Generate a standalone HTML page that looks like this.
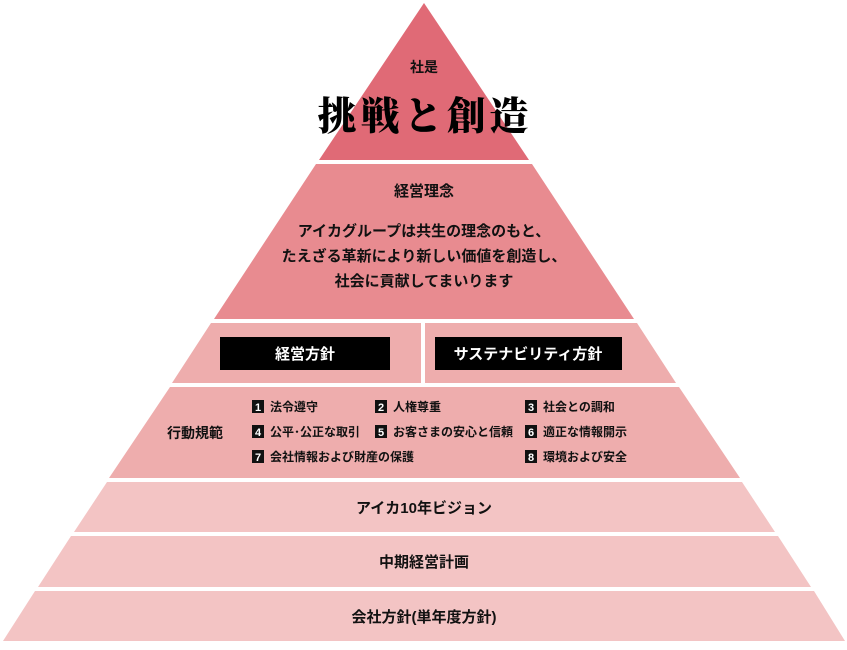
<!DOCTYPE html>
<html><head><meta charset="utf-8"><style>
html,body{margin:0;padding:0;background:#fff;}
svg text{font-family:"Liberation Sans","Noto Sans CJK JP",sans-serif;}
</style></head><body>
<svg width="847" height="645" viewBox="0 0 847 645" xmlns="http://www.w3.org/2000/svg">
<g>
<polygon points="424,3 529,160 319,160" fill="#e06a76"/>
<polygon points="316,164 532,164 634,319 214,319" fill="#e88b90"/>
<polygon points="211,323 421,323 421,383 172,383" fill="#eeadad"/>
<polygon points="425,323 637,323 676,383 425,383" fill="#eeadad"/>
<polygon points="170,387 679,387 740,478 109,478" fill="#eeadad"/>
<polygon points="107,482 742,482 775,532 74,532" fill="#f3c4c4"/>
<polygon points="71,536 778,536 811,587 38,587" fill="#f3c4c4"/>
<polygon points="35,591 814,591 845,641 3,641" fill="#f3c4c4"/>
</g>
<text x="424" y="72" font-size="14" font-weight="bold" text-anchor="middle" fill="#111">社是</text>
<text x="425" y="130" font-size="39" font-weight="900" text-anchor="middle" fill="#000" letter-spacing="4" style="font-family:'Noto Serif CJK SC','Noto Serif CJK JP',serif;">挑戦と創造</text>
<g font-weight="bold">
<text x="424" y="196" font-size="15" text-anchor="middle" fill="#111">経営理念</text>
<text x="424" y="236" font-size="15" text-anchor="middle" fill="#111">アイカグループは共生の理念のもと、</text>
<text x="424" y="261" font-size="15" text-anchor="middle" fill="#111">たえざる革新により新しい価値を創造し、</text>
<text x="424" y="286" font-size="15" text-anchor="middle" fill="#111">社会に貢献してまいります</text>
<rect x="220" y="337" width="170" height="33" fill="#000"/>
<text x="305" y="359" font-size="15" text-anchor="middle" fill="#fff">経営方針</text>
<rect x="435" y="337" width="187" height="33" fill="#000"/>
<text x="528" y="359" font-size="15" text-anchor="middle" fill="#fff">サステナビリティ方針</text>
<text x="167" y="438" font-size="14" fill="#111">行動規範</text>
<g font-size="12" fill="#111">
<rect x="252" y="400" width="12" height="13" fill="#111"/><text x="258" y="411" fill="#fff" text-anchor="middle" font-size="11">1</text><text x="270" y="411">法令遵守</text>
<rect x="375" y="400" width="12" height="13" fill="#111"/><text x="381" y="411" fill="#fff" text-anchor="middle" font-size="11">2</text><text x="393" y="411">人権尊重</text>
<rect x="525" y="400" width="12" height="13" fill="#111"/><text x="531" y="411" fill="#fff" text-anchor="middle" font-size="11">3</text><text x="543" y="411">社会との調和</text>
<rect x="252" y="425" width="12" height="13" fill="#111"/><text x="258" y="436" fill="#fff" text-anchor="middle" font-size="11">4</text><text x="270" y="436">公平･公正な取引</text>
<rect x="375" y="425" width="12" height="13" fill="#111"/><text x="381" y="436" fill="#fff" text-anchor="middle" font-size="11">5</text><text x="393" y="436">お客さまの安心と信頼</text>
<rect x="525" y="425" width="12" height="13" fill="#111"/><text x="531" y="436" fill="#fff" text-anchor="middle" font-size="11">6</text><text x="543" y="436">適正な情報開示</text>
<rect x="252" y="450" width="12" height="13" fill="#111"/><text x="258" y="461" fill="#fff" text-anchor="middle" font-size="11">7</text><text x="270" y="461">会社情報および財産の保護</text>
<rect x="525" y="450" width="12" height="13" fill="#111"/><text x="531" y="461" fill="#fff" text-anchor="middle" font-size="11">8</text><text x="543" y="461">環境および安全</text>
</g>
<text x="424" y="513" font-size="15" text-anchor="middle" fill="#111">アイカ10年ビジョン</text>
<text x="424" y="567" font-size="15" text-anchor="middle" fill="#111">中期経営計画</text>
<text x="424" y="622" font-size="15" text-anchor="middle" fill="#111">会社方針(単年度方針)</text>
</g>
</svg>
</body></html>
